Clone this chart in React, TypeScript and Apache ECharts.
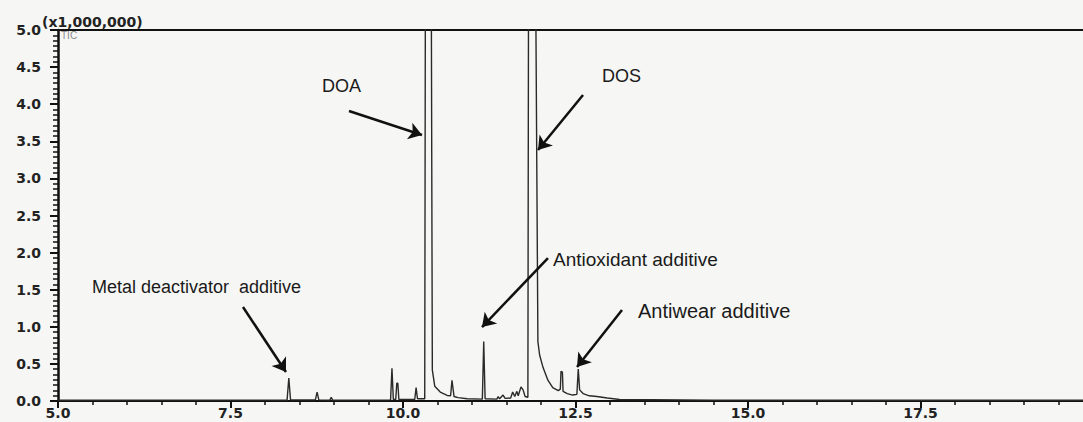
import React, { useEffect, useRef } from "react";
import * as echarts from "echarts";

// Retention time (min) and TIC intensity (×1,000,000)
const retentionTime = [
  5.0, 6.5, 7.8, 8.32, 8.345, 8.37, 8.73, 8.755, 8.78, 8.94, 8.96, 8.98,
  9.82, 9.84, 9.86, 9.895, 9.91, 9.925, 9.94, 10.17, 10.19, 10.21,
  10.315, 10.33, 10.40, 10.425, 10.46, 10.54, 10.64, 10.69, 10.71, 10.74, 10.8, 10.93,
  11.15, 11.17, 11.19, 11.36, 11.38, 11.4, 11.45, 11.48, 11.56, 11.59, 11.62, 11.65, 11.67,
  11.71, 11.74, 11.77, 11.81, 11.825, 11.9, 11.955, 11.98, 12.03, 12.1, 12.17, 12.25,
  12.28, 12.29, 12.31, 12.32, 12.38, 12.46, 12.52, 12.54, 12.56, 12.61, 12.7, 12.81,
  12.96, 13.14, 14.5, 17.0, 20.0,
];
const intensity = [
  0.01, 0.012, 0.012, 0.012, 0.31, 0.015, 0.015, 0.12, 0.015, 0.012, 0.05, 0.012,
  0.015, 0.44, 0.02, 0.02, 0.24, 0.24, 0.02, 0.02, 0.18, 0.03,
  0.03, 9.0, 9.0, 0.42, 0.2, 0.12, 0.075, 0.07, 0.28, 0.06, 0.045, 0.03,
  0.025, 0.8, 0.03, 0.025, 0.06, 0.03, 0.08, 0.035, 0.04, 0.12, 0.06, 0.13, 0.07,
  0.19, 0.15, 0.06, 0.05, 9.0, 9.0, 0.8, 0.62, 0.45, 0.28, 0.18, 0.14,
  0.16, 0.4, 0.39, 0.13, 0.1, 0.08, 0.09, 0.43, 0.15, 0.1, 0.07, 0.06,
  0.04, 0.02, 0.012, 0.01, 0.01,
];

const xTickLabels = ["5.0", "7.5", "10.0", "12.5", "15.0", "17.5"];
const yTickLabels = ["0.0", "0.5", "1.0", "1.5", "2.0", "2.5", "3.0", "3.5", "4.0", "4.5", "5.0"];

// Annotations: label text, arrow tail and tip in data units
const annotationLabels = ["DOA", "DOS", "Antioxidant additive", "Metal deactivator  additive", "Antiwear additive"];
const arrowFrom = [[9.217, 3.908], [12.609, 4.124], [12.101, 1.927], [7.681, 1.267], [13.174, 1.226]];
const arrowTo = [[10.275, 3.585], [11.957, 3.383], [11.145, 0.997], [8.304, 0.391], [12.522, 0.458]];

export default function App() {
  const ref = useRef<HTMLDivElement>(null);
  useEffect(() => {
    if (!ref.current) return;
    const chart = echarts.init(ref.current, null, { renderer: "svg" });
    const data = retentionTime.map((t, i) => [t, intensity[i]]);
    const tickFont = { fontFamily: "DejaVu Sans", fontWeight: "bold" as const, fontSize: 14, color: "#222" };
    const labelFont = "Liberation Sans, Arial, sans-serif";
    const labelPos = [
      { x: 322, y: 86, size: 18 },
      { x: 602, y: 76, size: 18 },
      { x: 553, y: 259, size: 19 },
      { x: 92, y: 287, size: 18 },
      { x: 638, y: 311, size: 20 },
    ];
    chart.setOption({
      animation: false,
      backgroundColor: "#f6f6f4",
      grid: { left: 58, right: 17, top: 30, bottom: 21 },
      xAxis: [
        {
          type: "value",
          min: 5,
          max: 20,
          interval: 2.5,
          position: "bottom",
          axisLine: { show: true, onZero: false, lineStyle: { color: "#111", width: 2 } },
          axisTick: { show: true, length: 7, lineStyle: { color: "#111", width: 2 } },
          minorTick: { show: true, splitNumber: 5, length: 4, lineStyle: { color: "#111", width: 1.5 } },
          splitLine: { show: false },
          minorSplitLine: { show: false },
          axisLabel: {
            ...tickFont,
            margin: 5,
            showMaxLabel: false,
            formatter: (v: number) => xTickLabels[Math.round((v - 5) / 2.5)] ?? "",
          },
        },
        {
          type: "value",
          min: 5,
          max: 20,
          position: "top",
          axisLine: { show: true, onZero: false, lineStyle: { color: "#111", width: 2 } },
          axisTick: { show: false },
          axisLabel: { show: false },
          splitLine: { show: false },
        },
      ],
      yAxis: {
        type: "value",
        min: 0,
        max: 5,
        interval: 0.5,
        axisLine: { show: true, onZero: false, lineStyle: { color: "#111", width: 2.5 } },
        axisTick: { show: true, length: 8, lineStyle: { color: "#111", width: 2 } },
        minorTick: { show: true, splitNumber: 7, length: 5, lineStyle: { color: "#111", width: 1.5 } },
        splitLine: { show: false },
        minorSplitLine: { show: false },
        axisLabel: {
          ...tickFont,
          margin: 17,
          formatter: (v: number) => yTickLabels[Math.round(v / 0.5)] ?? "",
        },
      },
      series: [
        {
          type: "line",
          xAxisIndex: 0,
          data,
          showSymbol: false,
          symbol: "none",
          clip: true,
          lineStyle: { color: "#2a2a2a", width: 1.4 },
          markLine: {
            silent: true,
            symbol: ["none", "arrow"],
            symbolSize: 13,
            label: { show: false },
            lineStyle: { color: "#111", width: 2.5, type: "solid" },
            emphasis: { disabled: true },
            data: arrowFrom.map((f, i) => [{ coord: f }, { coord: arrowTo[i] }]),
          },
        },
      ],
      graphic: [
        {
          type: "text",
          x: 42,
          y: 22,
          style: { text: "(x1,000,000)", font: "bold 14px DejaVu Sans", fill: "#222", verticalAlign: "middle" },
        },
        {
          type: "text",
          x: 61,
          y: 35,
          style: { text: "TIC", font: "10px Liberation Sans", fill: "#888", verticalAlign: "middle" },
        },
        ...annotationLabels.map((t, i) => ({
          type: "text",
          x: labelPos[i].x,
          y: labelPos[i].y,
          style: {
            text: t,
            font: `${labelPos[i].size}px ${labelFont}`,
            fill: "#1a1a1a",
            verticalAlign: "middle",
          },
        })),
      ],
    });
    return () => chart.dispose();
  }, []);
  return (
    <div style={{ position: "fixed", left: 0, top: 0, width: 1083, height: 422, overflow: "hidden", background: "#f6f6f4" }}>
      <div ref={ref} style={{ width: 1110, height: 422 }} />
    </div>
  );
}
